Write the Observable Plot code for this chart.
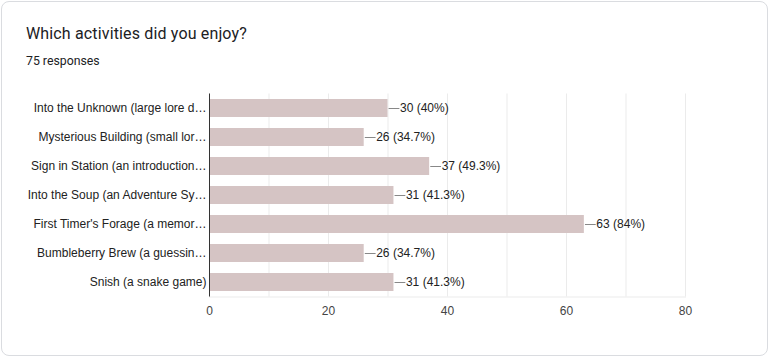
<!DOCTYPE html>
<html>
<head>
<meta charset="utf-8">
<script src="https://cdn.jsdelivr.net/npm/d3@7"></script>
<script src="https://cdn.jsdelivr.net/npm/@observablehq/plot@0.6"></script>
<style>
  html, body { margin: 0; padding: 0; background: #fff; }
  #card { position: absolute; left: 1px; top: 1px; width: 765px; height: 353px; border: 1px solid #dadce0; border-radius: 8px; background: #fff; }
  #title { position: absolute; left: 26px; top: 24px; font-family: Roboto, "Open Sans", sans-serif; font-size: 16px; color: #202124; letter-spacing: 0.15px; white-space: nowrap; }
  #sub { position: absolute; left: 26px; top: 54px; font-family: Roboto, sans-serif; font-size: 12.3px; color: #202124; white-space: nowrap; }
  #chart { position: absolute; left: 0; top: 80px; }
</style>
</head>
<body>
<div id="card"></div>
<div id="title">Which activities did you enjoy?</div>
<div id="sub">75 responses</div>
<div id="chart"></div>
<script>
const categories = [
  "Into the Unknown (large lore d…",
  "Mysterious Building (small lor…",
  "Sign in Station (an introduction…",
  "Into the Soup (an Adventure Sy…",
  "First Timer's Forage (a memor…",
  "Bumbleberry Brew (a guessin…",
  "Snish (a snake game)"
];
const counts = [30, 26, 37, 31, 63, 26, 31];
const percents = ["40%", "34.7%", "49.3%", "41.3%", "84%", "34.7%", "41.3%"];
const xTicks = [0, 20, 40, 60, 80];
const xGrid = [0, 10, 20, 30, 40, 50, 60, 70, 80];

const data = categories.map((c, i) => ({cat: c, n: counts[i], label: `${counts[i]} (${percents[i]})`}));

const lineShape = {
  draw(context, l) { context.moveTo(0, 0); context.lineTo(0, -l); }
};

const plot = Plot.plot({
  width: 770,
  height: 250,
  marginLeft: 209,
  marginRight: 85,
  marginTop: 13.5,
  marginBottom: 33.5,
  style: {fontFamily: "'Liberation Sans', Arial, sans-serif", fontSize: "12px", color: "#222", background: "transparent"},
  x: {domain: [0, 80], ticks: xTicks},
  y: {domain: categories, paddingInner: 0.39, paddingOuter: 0.195, label: null},
  marks: [
    Plot.gridX(xGrid, {stroke: "#ebebeb", strokeOpacity: 1}),
    Plot.frame({anchor: "bottom", stroke: "#ebebeb"}),
    Plot.barX(data, {x: "n", y: "cat", fill: "#d5c4c4"}),
    Plot.vector(data, {x: "n", y: "cat", length: 10, rotate: 90, anchor: "start", shape: lineShape, stroke: "#888", strokeWidth: 1, dx: 1}),
    Plot.text(data, {x: "n", y: "cat", text: "label", textAnchor: "start", dx: 12, fill: "#222", fontSize: 12}),
    Plot.ruleX([0], {stroke: "#333", strokeWidth: 1}),
    Plot.axisY({tickSize: 0, tickPadding: 3, fill: "#222", fontSize: 12, label: null}),
    Plot.axisX({ticks: xTicks, tickSize: 0, tickPadding: 9, fill: "#444", fontSize: 12, label: null})
  ]
});
document.getElementById("chart").appendChild(plot);
</script>
</body>
</html>
